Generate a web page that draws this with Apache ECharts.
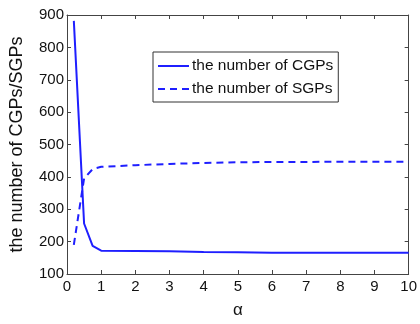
<!DOCTYPE html>
<html>
<head>
<meta charset="utf-8">
<script src="https://cdn.jsdelivr.net/npm/echarts@6/dist/echarts.min.js"></script>
<style>
  html, body { margin: 0; padding: 0; background: #fff; }
  #chart { width: 420px; height: 324px; }
</style>
</head>
<body>
<div id="chart"></div>
<script>
const alphaValues = [0.2, 0.5, 0.75, 1, 2, 3, 4, 5, 6, 7, 8, 9, 10];
const cgpCounts = [882, 256, 187, 172, 171, 170, 168, 167, 166, 166, 166, 166, 166];
const sgpCounts = [190, 395, 424, 431, 436, 440, 443, 445, 446, 446, 447, 447, 447];
const yTicks = [100, 900, 100]; // min, max, step
const xTicks = [0, 10, 1];

const font = 'Liberation Sans, Arial, sans-serif';
const blue = '#1f1fff';
const axisColor = '#444';

const chart = echarts.init(document.getElementById('chart'));

const pairs = vals => alphaValues.map((a, i) => [a, vals[i]]);

const baseX = {
  type: 'value', min: xTicks[0], max: xTicks[1], interval: xTicks[2],
  axisLine: { show: true, onZero: false, lineStyle: { color: axisColor, width: 1 } },
  axisTick: { show: true, inside: true, length: 4, lineStyle: { color: axisColor } },
  splitLine: { show: false },
};
const baseY = {
  type: 'value', min: yTicks[0], max: yTicks[1], interval: yTicks[2],
  axisLine: { show: true, onZero: false, lineStyle: { color: axisColor, width: 1 } },
  axisTick: { show: true, inside: true, length: 4, lineStyle: { color: axisColor } },
  splitLine: { show: false },
};

// legend keys: a solid stroke and a dashed stroke
const solidKey = 'path://M0,0h31v2h-31z';
const dashedKey = 'path://M0,0h7v2h-7z M12,0h7v2h-7z M24,0h7v2h-7z';

chart.setOption({
  animation: false,
  grid: { left: 67, right: 11, top: 15, bottom: 39, containLabel: false },
  legend: {
    orient: 'vertical',
    left: 153, top: 52,
    padding: [6, 5, 5, 5],
    itemGap: 7,
    itemWidth: 31, itemHeight: 2,
    borderColor: '#333', borderWidth: 1,
    backgroundColor: '#fff',
    textStyle: { fontFamily: font, fontSize: 15.5, color: '#111', padding: [0, 0, 0, -2] },
    data: [
      { name: 'the number of CGPs', icon: solidKey },
      { name: 'the number of SGPs', icon: dashedKey },
    ],
  },
  xAxis: [
    Object.assign({}, baseX, {
      position: 'bottom',
      name: 'α', nameLocation: 'middle', nameGap: 28,
      nameTextStyle: { fontFamily: font, fontSize: 17, color: '#111' },
      axisLabel: { fontFamily: font, fontSize: 15, color: '#111', margin: 5 },
    }),
    Object.assign({}, baseX, { position: 'top', axisLabel: { show: false } }),
  ],
  yAxis: [
    Object.assign({}, baseY, {
      position: 'left',
      name: 'the number of CGPs/SGPs', nameLocation: 'middle', nameGap: 41,
      nameTextStyle: { fontFamily: font, fontSize: 18, color: '#111' },
      axisLabel: { fontFamily: font, fontSize: 15, color: '#111', margin: 3 },
    }),
    Object.assign({}, baseY, { position: 'right', axisLabel: { show: false } }),
  ],
  series: [
    {
      name: 'the number of CGPs', type: 'line', symbol: 'none',
      data: pairs(cgpCounts),
      lineStyle: { color: blue, width: 2 },
      itemStyle: { color: blue },
    },
    {
      name: 'the number of SGPs', type: 'line', symbol: 'none',
      data: pairs(sgpCounts),
      lineStyle: { color: blue, width: 2, type: [7, 5] },
      itemStyle: { color: blue },
    },
  ],
});
</script>
</body>
</html>
